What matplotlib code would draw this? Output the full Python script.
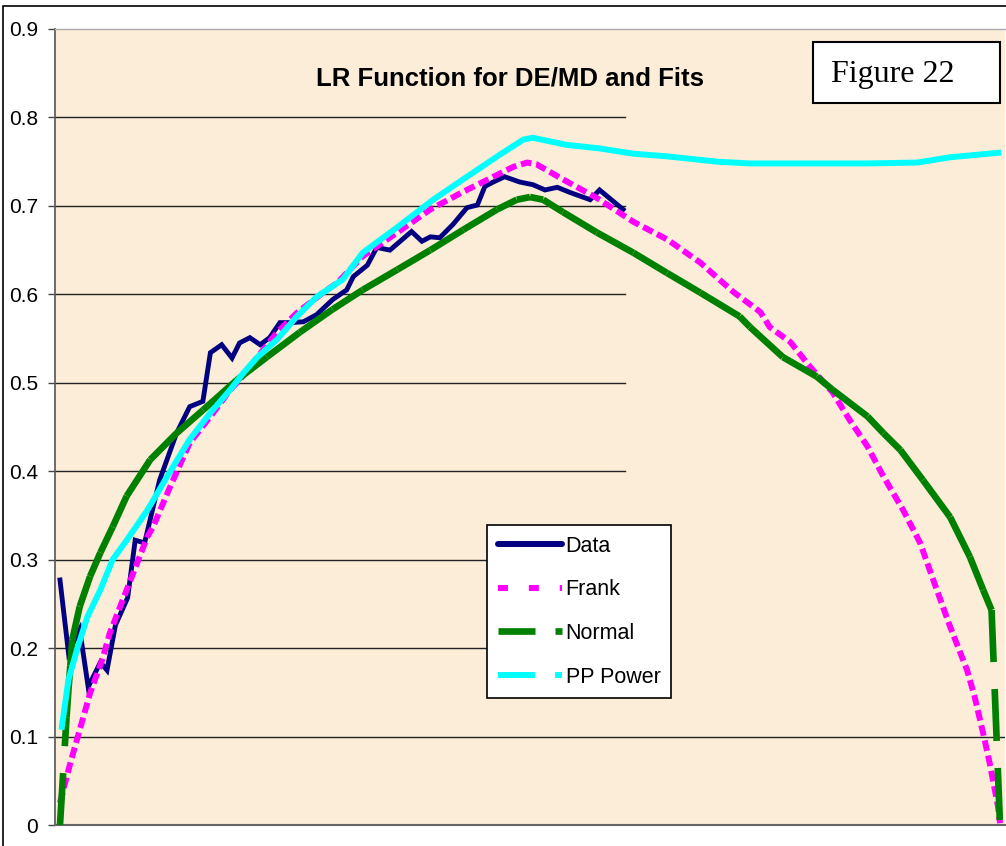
import matplotlib
matplotlib.use("Agg")
import matplotlib.pyplot as plt
from matplotlib.collections import LineCollection
from matplotlib.lines import Line2D
from matplotlib.patches import Rectangle

plt.rcParams["font.family"] = ["Liberation Sans", "DejaVu Sans"]

# horizontal axis is unlabelled: 0 = left end of the curves, 1 = right end
data_x = [0.000, 0.009, 0.021, 0.030, 0.043, 0.050, 0.059, 0.072, 0.080, 0.090,
          0.106, 0.124, 0.138, 0.152, 0.160, 0.172, 0.183, 0.191, 0.202, 0.213,
          0.223, 0.234, 0.245, 0.259, 0.273, 0.290, 0.305, 0.312, 0.327, 0.337,
          0.351, 0.374, 0.385, 0.394, 0.404, 0.418, 0.433, 0.444, 0.452, 0.461,
          0.473, 0.489, 0.503, 0.516, 0.529, 0.543, 0.564, 0.574, 0.599]
data_y = [0.277, 0.195, 0.221, 0.156, 0.184, 0.175, 0.226, 0.257, 0.322, 0.319,
          0.390, 0.443, 0.473, 0.479, 0.534, 0.543, 0.528, 0.545, 0.551, 0.543,
          0.551, 0.568, 0.568, 0.569, 0.577, 0.594, 0.605, 0.620, 0.633, 0.653,
          0.650, 0.671, 0.660, 0.665, 0.664, 0.679, 0.698, 0.701, 0.722, 0.727,
          0.733, 0.727, 0.724, 0.718, 0.721, 0.715, 0.707, 0.718, 0.696]

frank_x = [0.000, 0.011, 0.023, 0.032, 0.045, 0.053, 0.071, 0.082, 0.093, 0.099,
           0.117, 0.138, 0.163, 0.181, 0.191, 0.210, 0.231, 0.252, 0.280, 0.295,
           0.322, 0.359, 0.394, 0.429, 0.465, 0.482, 0.497, 0.507, 0.535, 0.571,
           0.610, 0.646, 0.681, 0.716, 0.745, 0.755, 0.777, 0.798, 0.822, 0.840,
           0.859, 0.876, 0.897, 0.915, 0.929, 0.947, 0.965, 0.973, 0.982, 0.989,
           0.998, 1.000]
frank_y = [0.025, 0.070, 0.115, 0.149, 0.187, 0.217, 0.266, 0.296, 0.326, 0.337,
           0.382, 0.432, 0.466, 0.492, 0.503, 0.529, 0.557, 0.579, 0.602, 0.613,
           0.643, 0.670, 0.696, 0.716, 0.735, 0.744, 0.749, 0.747, 0.730, 0.709,
           0.682, 0.662, 0.636, 0.603, 0.580, 0.563, 0.546, 0.518, 0.489, 0.458,
           0.428, 0.394, 0.356, 0.319, 0.277, 0.224, 0.175, 0.145, 0.104, 0.070,
           0.020, 0.002]

normal_x = [0.000, 0.007, 0.009, 0.011, 0.013, 0.021, 0.032, 0.043, 0.056, 0.071,
            0.096, 0.124, 0.152, 0.188, 0.220, 0.255, 0.290, 0.322, 0.359, 0.394,
            0.429, 0.465, 0.486, 0.500, 0.514, 0.535, 0.571, 0.610, 0.646, 0.681,
            0.723, 0.734, 0.769, 0.805, 0.822, 0.859, 0.876, 0.894, 0.918, 0.947,
            0.968, 0.982, 0.991, 1.000]
normal_y = [0.000, 0.122, 0.153, 0.180, 0.209, 0.247, 0.281, 0.308, 0.337, 0.372,
            0.413, 0.443, 0.469, 0.503, 0.529, 0.557, 0.583, 0.605, 0.628, 0.650,
            0.673, 0.696, 0.707, 0.710, 0.707, 0.693, 0.670, 0.647, 0.624, 0.602,
            0.575, 0.563, 0.529, 0.507, 0.492, 0.462, 0.443, 0.424, 0.390, 0.348,
            0.303, 0.266, 0.243, 0.000]

pp_x = [0.002, 0.009, 0.018, 0.029, 0.043, 0.056, 0.071, 0.093, 0.114, 0.138,
        0.160, 0.181, 0.195, 0.210, 0.231, 0.252, 0.273, 0.301, 0.322, 0.359,
        0.397, 0.433, 0.468, 0.493, 0.503, 0.539, 0.574, 0.610, 0.646, 0.699,
        0.734, 0.787, 0.859, 0.912, 0.947, 0.998]
pp_y = [0.111, 0.164, 0.198, 0.235, 0.266, 0.300, 0.322, 0.356, 0.394, 0.436,
        0.466, 0.492, 0.511, 0.529, 0.549, 0.575, 0.597, 0.617, 0.647, 0.676,
        0.707, 0.733, 0.758, 0.775, 0.777, 0.769, 0.765, 0.759, 0.756, 0.750,
        0.748, 0.748, 0.748, 0.749, 0.755, 0.760]

y_ticks = [0, 0.1, 0.2, 0.3, 0.4, 0.5, 0.6, 0.7, 0.8, 0.9]
y_ticklabels = ["0", "0.1", "0.2", "0.3", "0.4", "0.5", "0.6", "0.7", "0.8", "0.9"]

NAVY, MAGENTA, GREEN, CYAN = "#000080", "#FF00FF", "#008000", "#00FFFF"
PAPER = "#FBEDD7"


def excel_dashed(ax, x, y, color, lw, on, off, z):
    # Excel restarts the dash pattern on every segment, so short segments look solid
    segs = [[(x[i], y[i]), (x[i + 1], y[i + 1])] for i in range(len(x) - 1)]
    lc = LineCollection(segs, colors=color, linewidths=lw,
                        linestyles=[(0, (on, off))], capstyle="butt", zorder=z)
    ax.add_collection(lc)


fig = plt.figure(figsize=(10.06, 8.46), dpi=100)
ax = fig.add_axes([55 / 1006, 21 / 846, 950 / 1006, 796 / 846])
ax.set_facecolor(PAPER)
ax.set_xlim(-0.0053, 1.0053)
ax.set_ylim(0, 0.9)

# gridlines: only 0.1 runs all the way across in the original
for yv in y_ticks[1:-1]:
    ax.axhline(yv, xmin=0, xmax=1 if yv == 0.1 else 0.6, color="#222222", lw=1.0, zorder=1)

ax.plot(data_x, data_y, color=NAVY, lw=3.5, solid_joinstyle="miter", zorder=3)
ax.plot(frank_x, frank_y, color=MAGENTA, lw=4.3, dashes=(1.8, 0.8), zorder=4)
excel_dashed(ax, normal_x, normal_y, GREEN, 4.8, 7.8, 4.05, 5)
ax.plot(pp_x, pp_y, color=CYAN, lw=4.3, zorder=6)

ax.set_yticks(y_ticks)
ax.set_yticklabels(y_ticklabels)
ax.set_xticks([])
ax.tick_params(axis="y", length=5, width=1, color="#444444", labelsize=15, pad=7)
ax.spines["right"].set_visible(False)
ax.spines["left"].set_color("#555555")
ax.spines["left"].set_linewidth(1.2)
ax.spines["bottom"].set_color("#666666")
ax.spines["bottom"].set_linewidth(1.5)
ax.spines["top"].set_color("#aaaaaa")
ax.spines["top"].set_linewidth(1.0)

handles = [
    Line2D([], [], color=NAVY, lw=4.3, solid_capstyle="round"),
    Line2D([], [], color=MAGENTA, lw=4.3, dashes=(1.67, 3.5)),
    Line2D([], [], color=GREEN, lw=4.8, dashes=(5.55, 3.0)),
    Line2D([], [], color=CYAN, lw=4.3, dashes=(6.2, 3.35)),
]
labels = ["Data", "Frank", "Normal", "PP Power"]
leg = ax.legend(handles, labels, loc="upper left",
                bbox_to_anchor=(487 / 1006, 1 - 525 / 846), bbox_transform=fig.transFigure,
                borderaxespad=0, fontsize=15.5, frameon=True, fancybox=False,
                edgecolor="black", facecolor="white", framealpha=1,
                handlelength=3.0, handletextpad=0.15, labelspacing=1.05,
                borderpad=0.5)
leg.get_frame().set_linewidth(1.2)
leg.set_zorder(10)

fig.text(510.5 / 1006, 1 - 85 / 846, "LR Function for DE/MD and Fits",
         ha="center", va="baseline", fontsize=18.5, fontweight="bold")

fig.add_artist(Rectangle((813 / 1006, 1 - 103 / 846), 187 / 1006, 61 / 846,
                         transform=fig.transFigure, facecolor="white",
                         edgecolor="black", lw=1.5, zorder=5))
fig.text(893 / 1006, 1 - 82 / 846, "Figure 22", ha="center", va="baseline",
         fontsize=23, family=["Liberation Serif", "DejaVu Serif"], zorder=6)

# outer chart border (only left and top edges fall inside the picture)
fig.add_artist(Rectangle((3 / 1006, -0.05), 1.05, 1 - 6 / 846 + 0.05,
                         transform=fig.transFigure, fill=False,
                         edgecolor="black", lw=1.2, clip_on=False))

fig.savefig("out.png", dpi=100)
